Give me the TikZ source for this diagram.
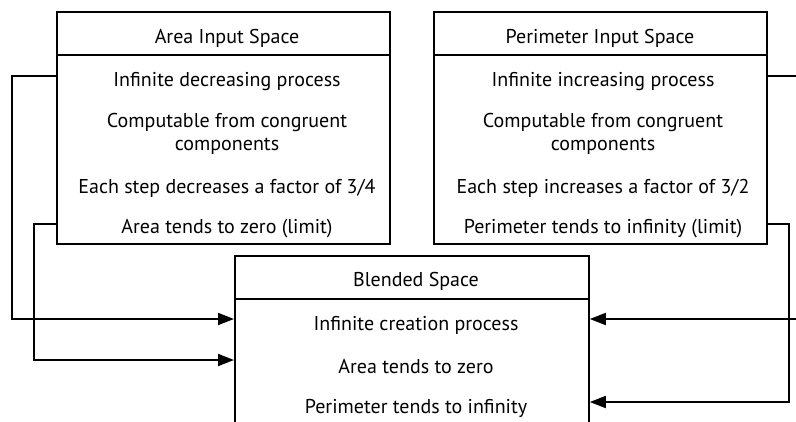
\documentclass[tikz,border=0pt]{standalone}
\usepackage{fontspec}
\setmainfont{PT Sans}
\usetikzlibrary{arrows.meta}
\begin{document}
\begin{tikzpicture}[x=1pt,y=-1pt,
  line width=1.8pt,
  space/.style={draw, line width=1.8pt, inner sep=0pt, anchor=north west},
  lbl/.style={font=\fontsize{20}{23}\selectfont, align=center, inner sep=0pt},
  link/.style={line width=1.8pt, -{Triangle[length=16pt,width=12pt]}}]
\useasboundingbox (0,0) rectangle (796,421);

% Area input space
\node[space, minimum width=333pt, minimum height=232pt] (area) at (56,11) {};
\draw ([yshift=-44pt]area.north west) -- ([yshift=-44pt]area.north east);
\node[lbl] (areaH) at (227,38) {Area Input Space};
\node[lbl] (a1) at (227,82) {Infinite decreasing process};
\node[lbl] (a2) at (227,133.5) {Computable from congruent\\components};
\node[lbl] (a3) at (227,188) {Each step decreases a factor of 3/4};
\node[lbl] (a4) at (227,228.5) {Area tends to zero (limit)};

% Perimeter input space
\node[space, minimum width=333pt, minimum height=232pt] (perim) at (433,11) {};
\draw ([yshift=-44pt]perim.north west) -- ([yshift=-44pt]perim.north east);
\node[lbl] (perimH) at (600,38) {Perimeter Input Space};
\node[lbl] (p1) at (603,82) {Infinite increasing process};
\node[lbl] (p2) at (603,133.5) {Computable from congruent\\components};
\node[lbl] (p3) at (603,188) {Each step increases a factor of 3/2};
\node[lbl] (p4) at (603,228.5) {Perimeter tends to infinity (limit)};

% Blended space
\node[space, minimum width=354pt, minimum height=240pt] (blend) at (234,255) {};
\draw ([yshift=-44pt]blend.north west) -- ([yshift=-44pt]blend.north east);
\node[lbl] (blendH) at (416,281) {Blended Space};
\node[lbl] (b1) at (416,325) {Infinite creation process};
\node[lbl] (b2) at (416,366.5) {Area tends to zero};
\node[lbl] (b3) at (416,408.5) {Perimeter tends to infinity};

% Projections into the blend
\draw[link] ([yshift=-65pt]area.north west) -- ++(-44,0) |- ([yshift=-64pt]blend.north west);
\draw[link] ([yshift=-213pt]area.north west) -- ++(-22,0) |- ([yshift=-105pt]blend.north west);
\draw[link] ([yshift=-65pt]perim.north east) -- ++(40,0) |- ([yshift=-64pt]blend.north east);
\draw[link] ([yshift=-213pt]perim.north east) -- ++(21,0) |- ([yshift=-147pt]blend.north east);
\end{tikzpicture}
\end{document}
